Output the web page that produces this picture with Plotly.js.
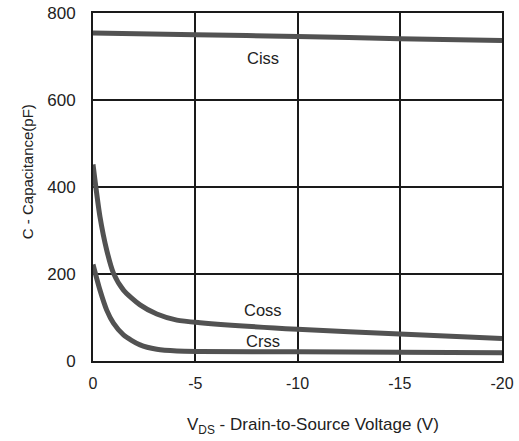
<!DOCTYPE html>
<html>
<head>
<meta charset="utf-8">
<script src="https://cdn.plot.ly/plotly-3.0.1.min.js"></script>
<style>html,body{margin:0;padding:0;background:#fff;}#chart{width:519px;height:441px;}</style>
</head>
<body>
<div id="chart"></div>
<script>
// Data
const cissV = [0, -5, -10, -15, -20];
const cissC = [754, 750, 746, 741, 737];

const cossV = [0, -0.34, -0.67, -1.0, -1.49, -2.3, -3.12, -4.1, -5.24, -10, -15, -20];
const cossC = [452, 332, 255, 202, 163, 129, 108, 94, 88, 73, 62, 52];

const crssV = [0, -0.34, -0.67, -1.0, -1.49, -2.3, -3.12, -4.1, -5.24, -10, -15, -20];
const crssC = [222, 163, 117, 87, 60, 37, 27, 23, 22, 21, 20, 19];

const xTicks = [0, -5, -10, -15, -20];
const yTicks = [0, 200, 400, 600, 800];

const labels = [
  {name: 'Ciss', x: -8.3, y: 696},
  {name: 'Coss', x: -8.3, y: 118},
  {name: 'Crss', x: -8.3, y: 46}
];

const xTitle = 'V<sub>DS</sub> - Drain-to-Source Voltage (V)';
const yTitle = 'C - Capacitance(pF)';

const lineStyle = {color: '#525252', width: 5, shape: 'spline', smoothing: 0.7};
const traces = [
  {x: cissV, y: cissC, mode: 'lines', line: lineStyle, hoverinfo: 'skip'},
  {x: cossV, y: cossC, mode: 'lines', line: lineStyle, hoverinfo: 'skip'},
  {x: crssV, y: crssC, mode: 'lines', line: lineStyle, hoverinfo: 'skip'}
];

const fam = 'Liberation Sans, Arial, sans-serif';
const txt = '#222';

const layout = {
  width: 519, height: 441,
  margin: {l: 93, r: 17, t: 13, b: 80},
  paper_bgcolor: '#fff', plot_bgcolor: '#fff',
  showlegend: false,
  font: {family: fam, color: txt},
  xaxis: {
    range: [0, -20],
    tickvals: xTicks,
    ticktext: xTicks.map(String),
    showgrid: true, gridcolor: '#1a1a1a', gridwidth: 2,
    showline: true, linecolor: '#1a1a1a', linewidth: 2, mirror: true,
    zeroline: false, ticks: '',
    ticklabelstandoff: 7,
    tickfont: {size: 16, family: fam, color: txt}
  },
  yaxis: {
    range: [0, 800],
    tickvals: yTicks,
    ticktext: yTicks.map(String),
    showgrid: true, gridcolor: '#1a1a1a', gridwidth: 2,
    showline: true, linecolor: '#1a1a1a', linewidth: 2, mirror: true,
    zeroline: false, ticks: '',
    ticklabelstandoff: 12,
    tickfont: {size: 17, family: fam, color: txt}
  },
  annotations: labels.map(l => ({
    x: l.x, y: l.y, xref: 'x', yref: 'y', text: l.name, showarrow: false,
    font: {size: 16.5, family: fam, color: txt}
  })).concat([
    {x: 0.538, y: -0.187, xref: 'paper', yref: 'paper', xanchor: 'center', yanchor: 'middle',
     text: xTitle, showarrow: false, font: {size: 17, family: fam, color: txt}},
    {x: -0.161, y: 0.543, xref: 'paper', yref: 'paper', xanchor: 'center', yanchor: 'middle',
     textangle: -90, text: yTitle, showarrow: false, font: {size: 15, family: fam, color: txt}}
  ])
};

Plotly.newPlot('chart', traces, layout, {staticPlot: true, displayModeBar: false});
</script>
</body>
</html>
